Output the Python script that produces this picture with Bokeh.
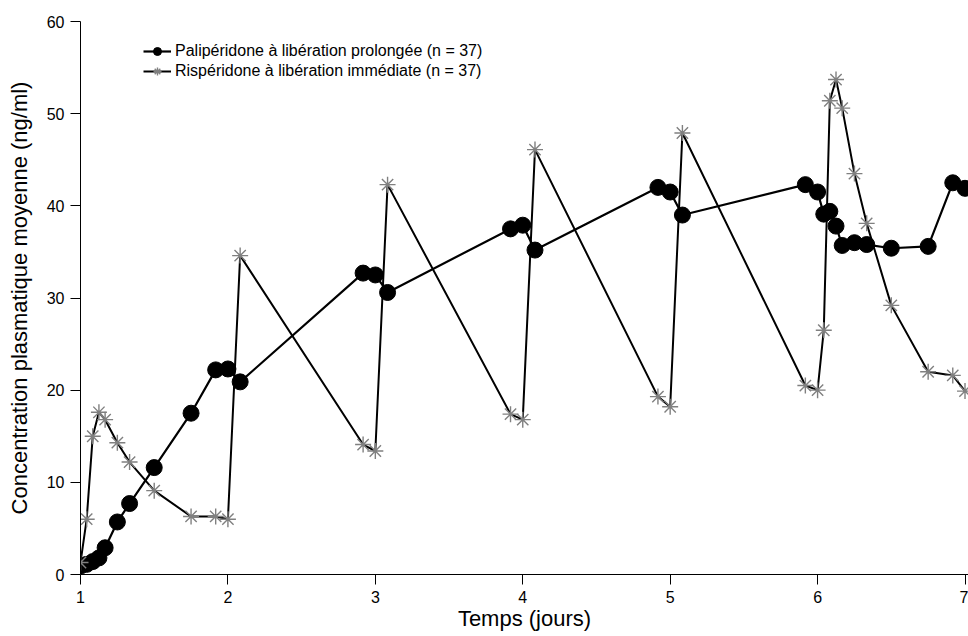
from bokeh.plotting import figure
from bokeh.models import Range1d, FixedTicker, Legend, LegendItem
from bokeh.embed import file_html
from bokeh.resources import INLINE

# ---- data ----
days = [1.0, 1.042, 1.083, 1.125, 1.167, 1.25, 1.333, 1.5, 1.75, 1.917, 2.0, 2.083,
        2.917, 3.0, 3.083, 3.917, 4.0, 4.083, 4.917, 5.0, 5.083,
        5.917, 6.0, 6.042, 6.083, 6.125, 6.167, 6.25, 6.333, 6.5, 6.75, 6.917, 7.0]
paliperidone = [0.9, 1.1, 1.4, 1.8, 2.9, 5.7, 7.7, 11.6, 17.5, 22.2, 22.3, 20.9,
                32.7, 32.5, 30.6, 37.5, 37.9, 35.2, 42.0, 41.5, 39.0,
                42.3, 41.5, 39.1, 39.4, 37.8, 35.7, 36.0, 35.8, 35.4, 35.6, 42.5, 41.9]
risperidone = [1.3, 6.0, 15.0, 17.6, 16.8, 14.3, 12.2, 9.1, 6.3, 6.3, 6.0, 34.6,
               14.1, 13.4, 42.3, 17.4, 16.8, 46.1, 19.3, 18.2, 47.9,
               20.5, 20.0, 26.5, 51.4, 53.7, 50.6, 43.5, 38.1, 29.2, 22.0, 21.6, 19.9]
x_ticks = [1, 2, 3, 4, 5, 6, 7]
y_ticks = [0, 10, 20, 30, 40, 50, 60]
label_pali = "Palipéridone à libération prolongée (n = 37)"
label_risp = "Rispéridone à libération immédiate (n = 37)"
x_title = "Temps (jours)"
y_title = "Concentration plasmatique moyenne (ng/ml)"

FONT = "Liberation Sans"

p = figure(width=968, height=636, output_backend="svg", toolbar_location=None,
           x_range=Range1d(1, 7.0237), y_range=Range1d(0, 60),
           min_border_left=80, min_border_right=0, min_border_top=21, min_border_bottom=62)
p.outline_line_color = None
p.grid.visible = False
p.background_fill_color = "white"
p.border_fill_color = "white"

l1 = p.line(days, paliperidone, line_color="black", line_width=2.2)
l2 = p.line(days, risperidone, line_color="black", line_width=2)
s1 = p.scatter(days, paliperidone, marker="circle", size=16, fill_color="black", line_color="black")
s2 = p.scatter(days, risperidone, marker="asterisk", size=16, line_color="#808080", line_width=1.4)

p.xaxis.ticker = FixedTicker(ticks=x_ticks)
p.yaxis.ticker = FixedTicker(ticks=y_ticks)
p.xaxis.axis_label = x_title
p.yaxis.axis_label = y_title
for ax in (p.xaxis[0], p.yaxis[0]):
    ax.axis_line_color = "black"
    ax.axis_line_width = 1
    ax.major_tick_line_color = "black"
    ax.major_tick_out = 10
    ax.major_tick_in = 0
    ax.minor_tick_line_color = None
    ax.major_label_text_font = FONT
    ax.major_label_text_font_size = "16px"
    ax.major_label_text_color = "black"
    ax.axis_label_text_font = FONT
    ax.axis_label_text_font_size = "22px"
    ax.axis_label_text_font_style = "normal"
    ax.axis_label_text_color = "black"
p.xaxis.major_label_standoff = 6
p.xaxis.axis_label_standoff = 0
p.yaxis.major_label_standoff = 6
p.yaxis.axis_label_standoff = 12

legend = Legend(items=[LegendItem(label=label_pali, renderers=[l1, s1]),
                       LegendItem(label=label_risp, renderers=[l2, s2])],
                location=(63, 493), glyph_width=28, glyph_height=20, label_height=20,
                spacing=0, padding=0, margin=0, label_standoff=4,
                label_text_font=FONT, label_text_font_size="16px",
                label_text_color="black",
                background_fill_alpha=0, border_line_color=None)
p.add_layout(legend)

open("out.html", "w").write(file_html(p, INLINE))
